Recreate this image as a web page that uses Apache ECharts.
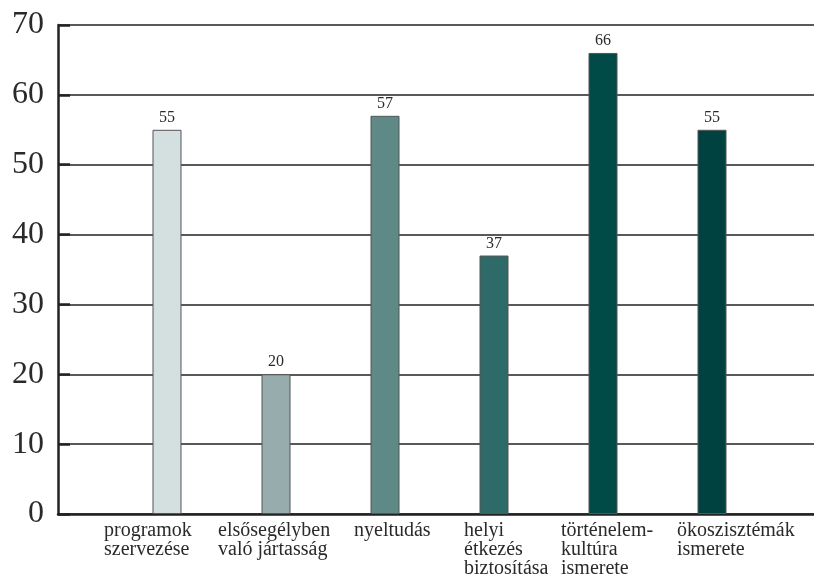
<!DOCTYPE html>
<html>
<head>
<meta charset="utf-8">
<script src="https://cdn.jsdelivr.net/npm/echarts@6/dist/echarts.min.js"></script>
<style>
    html, body { margin: 0; padding: 0; background: #fff; }
    #chart { width: 814px; height: 582px; }
</style>
</head>
<body>
<div id="chart"></div>
<script>
    // chart data
    var categories = [
        'programok\nszervezése',
        'elsősegélyben\nvaló jártasság',
        'nyeltudás',
        'helyi\nétkezés\nbiztosítása',
        'történelem-\nkultúra\nismerete',
        'ökoszisztémák\nismerete'
    ];
    var values = [55, 20, 57, 37, 66, 55];
    var yTicks = [0, 10, 20, 30, 40, 50, 60, 70];

    var barColors = ['#d4dfdf', '#97adad', '#5f8987', '#2e6a67', '#004a48', '#00423f'];
    // left shift of each label block relative to its bar
    var labelShift = [63, 58, 31, 30, 42, 35];

    var serif = '"Liberation Serif", "DejaVu Serif", serif';

    // empty slot on each side so the bars sit on ticks 1..6
    var axisData = [''].concat(categories.map(function (c, i) {
        return { value: c, textStyle: { align: 'left', padding: [0, 0, 0, -labelShift[i]] } };
    })).concat(['']);
    var barData = [null].concat(values.map(function (v, i) {
        return { value: v, itemStyle: { color: barColors[i] } };
    })).concat([null]);

    var chart = echarts.init(document.getElementById('chart'));
    chart.setOption({
        animation: false,
        grid: { left: 58, top: 25, width: 763, height: 489, containLabel: false, outerBoundsMode: 'none' },
        xAxis: {
            type: 'category',
            data: axisData,
            boundaryGap: false,
            axisLine: { lineStyle: { color: '#222', width: 2.5 } },
            axisTick: { show: false },
            axisLabel: {
                interval: 0,
                align: 'left',
                verticalAlign: 'top',
                margin: 7,
                fontFamily: serif,
                fontSize: 20,
                lineHeight: 19,
                color: '#2a2a2a'
            },
            splitLine: { show: false }
        },
        yAxis: {
            type: 'value',
            min: yTicks[0],
            max: yTicks[yTicks.length - 1],
            interval: 10,
            axisLine: { show: true, lineStyle: { color: '#222', width: 2.5 } },
            axisTick: { show: true, inside: true, length: 12, lineStyle: { color: '#222', width: 2.5 } },
            axisLabel: {
                margin: 14,
                fontFamily: serif,
                fontSize: 32,
                color: '#2a2a2a'
            },
            splitLine: { lineStyle: { color: '#222', width: 1.5 } }
        },
        series: [{
            type: 'bar',
            data: barData,
            barWidth: 29,
            itemStyle: { borderColor: '#555', borderWidth: 1 },
            label: {
                show: true,
                position: 'top',
                distance: 4,
                fontFamily: serif,
                fontSize: 16,
                color: '#2a2a2a'
            }
        }]
    });
</script>
</body>
</html>
